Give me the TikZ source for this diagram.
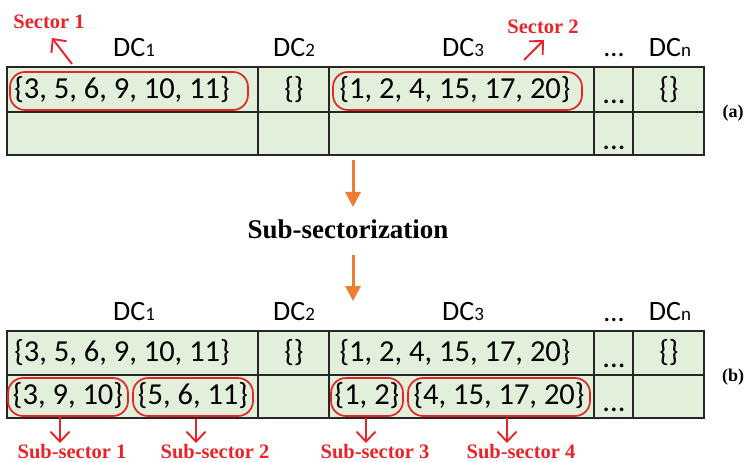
\documentclass[tikz,border=0pt]{standalone}
\usepackage{fontspec}
\setmainfont{Carlito}
\newfontfamily\lblfont{Liberation Serif}
\usetikzlibrary{arrows.meta}
\definecolor{cellgreen}{RGB}{226,239,218}
\definecolor{markred}{RGB}{232,36,40}
\definecolor{flowor}{RGB}{237,125,49}
\newcommand\dclab[1]{DC{\fontsize{19}{20}\selectfont #1}}
\begin{document}
\begin{tikzpicture}[x=1pt,y=-1pt,
  grid/.style={draw=black!85, line width=1.6pt},
  cell/.style={font=\fontsize{30.5}{32}\selectfont, inner sep=0pt},
  head/.style={font=\fontsize{28}{30}\selectfont, inner sep=0pt},
  tag/.style={font=\lblfont\bfseries\fontsize{20.5}{22}\selectfont, text=markred, inner sep=0pt},
  ring/.style={draw=markred, line width=1.7pt, rounded corners=15pt, inner sep=0pt},
  ptr/.style={draw=markred, line width=1.9pt, -{Straight Barb[length=10pt,width=19pt,line width=1.9pt]}},
  flow/.style={draw=flowor, line width=3pt, -{Triangle[length=15pt,width=15pt]}},
]
\useasboundingbox (0,0) rectangle (746,462);
\fill[white] (0,0) rectangle (746,462);

% ---------- table (a) ----------
\fill[cellgreen] (7,67) rectangle (704,155);
\draw[grid] (7,67) rectangle (704,155);
\draw[grid] (7,112) -- (704,112);
\foreach \cx in {258,329,594,633} \draw[grid] (\cx,67) -- (\cx,155);

\node[head] (a-h1) at (134,48) {\dclab{1}};
\node[head] (a-h2) at (294,48) {\dclab{2}};
\node[head] (a-h3) at (463,48) {\dclab{3}};
\node[head, anchor=base] (a-h4) at (614,57) {...};
\node[head] (a-h5) at (670,48) {\dclab{n}};

\node[cell] (a-11) at (122,90) {\{3, 5, 6, 9, 10, 11\}};
\node[cell] (a-12) at (294,90) {\{\}};
\node[cell] (a-13) at (455,90) {\{1, 2, 4, 15, 17, 20\}};
\node[cell, anchor=base] (a-14) at (614,104) {...};
\node[cell] (a-15) at (669,90) {\{\}};
\node[cell, anchor=base] (a-24) at (614,150) {...};

\node[font=\lblfont\bfseries\fontsize{18}{20}\selectfont, inner sep=0pt] (a-tag) at (733,113) {(a)};

% sectors of (a)
\node[ring, minimum width=238pt, minimum height=38pt] (sec1) at (129,91) {};
\node[ring, minimum width=249pt, minimum height=38pt] (sec2) at (457.5,91) {};
\node[tag] (sec1-lbl) at (49,22) {Sector 1};
\node[tag] (sec2-lbl) at (543,27) {Sector 2};
\coordinate (sec1-from) at (72,64);
\coordinate (sec1-to) at (52,38);
\coordinate (sec2-from) at (524,60);
\coordinate (sec2-to) at (544,40);
\draw[ptr] (sec1-from) -- (sec1-to);
\draw[ptr] (sec2-from) -- (sec2-to);

% ---------- step between the tables ----------
\node[font=\lblfont\bfseries\fontsize{27}{29}\selectfont, inner sep=0pt] (subsec) at (348,229) {Sub-sectorization};
\coordinate (flow1-from) at (353,160);
\coordinate (flow1-to) at (353,207);
\coordinate (flow2-from) at (353,255);
\coordinate (flow2-to) at (353,301);
\draw[flow] (flow1-from) -- (flow1-to);
\draw[flow] (flow2-from) -- (flow2-to);

% ---------- table (b) ----------
\fill[cellgreen] (7,331) rectangle (704,418);
\draw[grid] (7,331) rectangle (704,418);
\draw[grid] (7,375) -- (704,375);
\foreach \cx in {258,329,594,633} \draw[grid] (\cx,331) -- (\cx,418);

\node[head] (b-h1) at (134,312) {\dclab{1}};
\node[head] (b-h2) at (294,312) {\dclab{2}};
\node[head] (b-h3) at (463,312) {\dclab{3}};
\node[head, anchor=base] (b-h4) at (614,321) {...};
\node[head] (b-h5) at (670,312) {\dclab{n}};

\node[cell] (b-11) at (122,353) {\{3, 5, 6, 9, 10, 11\}};
\node[cell] (b-12) at (294,353) {\{\}};
\node[cell] (b-13) at (455,353) {\{1, 2, 4, 15, 17, 20\}};
\node[cell, anchor=base] (b-14) at (614,367) {...};
\node[cell] (b-15) at (669,353) {\{\}};

\node[cell] (b-21) at (68,396) {\{3, 9, 10\}};
\node[cell] (b-22) at (193,396) {\{5, 6, 11\}};
\node[cell] (b-23) at (367,396) {\{1, 2\}};
\node[cell] (b-24) at (499,396) {\{4, 15, 17, 20\}};
\node[cell, anchor=base] (b-25) at (614,411) {...};

\node[font=\lblfont\bfseries\fontsize{18}{20}\selectfont, inner sep=0pt] (b-tag) at (733,377) {(b)};

% sub-sectors of (b)
\node[ring, minimum width=120pt, minimum height=38pt] (sub1) at (68,397) {};
\node[ring, minimum width=120pt, minimum height=38pt] (sub2) at (193,397) {};
\node[ring, minimum width=72pt, minimum height=38pt] (sub3) at (367,397) {};
\node[ring, minimum width=182pt, minimum height=38pt] (sub4) at (499,397) {};

\node[tag] (sub1-lbl) at (72,452) {Sub-sector 1};
\node[tag] (sub2-lbl) at (215,452) {Sub-sector 2};
\node[tag] (sub3-lbl) at (375,452) {Sub-sector 3};
\node[tag] (sub4-lbl) at (521,452) {Sub-sector 4};

\coordinate (sub1-from) at (60,417);
\coordinate (sub1-to) at (60,443);
\coordinate (sub2-from) at (196,419);
\coordinate (sub2-to) at (196,443);
\coordinate (sub3-from) at (366,418);
\coordinate (sub3-to) at (366,443);
\coordinate (sub4-from) at (507,418);
\coordinate (sub4-to) at (507,443);
\draw[ptr] (sub1-from) -- (sub1-to);
\draw[ptr] (sub2-from) -- (sub2-to);
\draw[ptr] (sub3-from) -- (sub3-to);
\draw[ptr] (sub4-from) -- (sub4-to);
\end{tikzpicture}
\end{document}
